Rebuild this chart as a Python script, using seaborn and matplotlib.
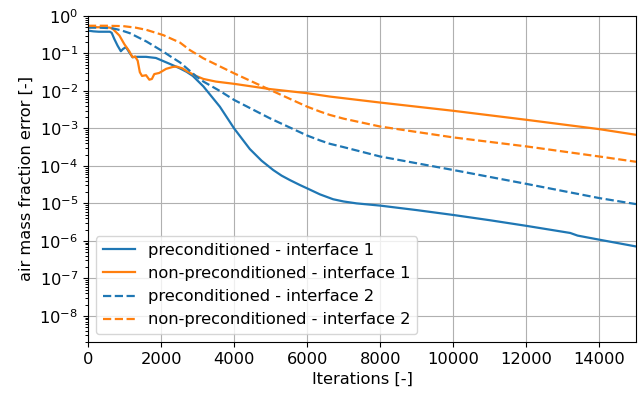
import numpy as np
import pandas as pd
import matplotlib
matplotlib.use("Agg")
import matplotlib.pyplot as plt
from matplotlib.ticker import FixedLocator, NullFormatter, LogFormatterSciNotation
import seaborn as sns

# ---- data (iterations, log10 of error) ----
pre_if1_it = [0, 150, 300, 450, 600, 650, 720, 810, 900, 960, 1040, 1130, 1220, 1310,
              1590, 1860, 2245, 2500, 2700, 2870, 3160, 3610, 4000, 4430, 4750, 5070,
              5300, 5530, 5800, 6000, 6350, 6710, 7000, 7350, 8000, 9000, 10000, 11000,
              12000, 13200, 13400, 14000, 15000]
pre_if1_log = [-0.39, -0.41, -0.42, -0.42, -0.42, -0.45, -0.61, -0.79, -0.94, -0.88,
               -0.83, -0.97, -1.10, -1.09, -1.09, -1.12, -1.28, -1.39, -1.49, -1.60,
               -1.88, -2.42, -3.00, -3.55, -3.86, -4.11, -4.26, -4.38, -4.51, -4.60,
               -4.76, -4.89, -4.95, -5.00, -5.06, -5.18, -5.31, -5.45, -5.60, -5.79,
               -5.86, -5.97, -6.15]

non_if1_it = [0, 300, 600, 675, 860, 995, 1130, 1220, 1290, 1360, 1420, 1480, 1590,
              1680, 1750, 1815, 1950, 2140, 2320, 2430, 2590, 2700, 2960, 3160, 3500,
              4000, 4980, 6000, 6620, 8000, 10000, 12000, 14000, 15000]
non_if1_log = [-0.30, -0.30, -0.31, -0.34, -0.52, -0.75, -0.94, -1.10, -1.08, -1.19,
               -1.50, -1.60, -1.58, -1.70, -1.68, -1.55, -1.52, -1.41, -1.36, -1.35,
               -1.40, -1.47, -1.60, -1.68, -1.75, -1.81, -1.95, -2.06, -2.15, -2.31,
               -2.53, -2.77, -3.02, -3.17]

pre_if2_it = [0, 300, 680, 900, 1150, 1600, 2060, 2245, 2520, 2975, 3160, 3610, 4000,
              4980, 6000, 6350, 6620, 7000, 8000, 10000, 12000, 14000, 15000]
pre_if2_log = [-0.31, -0.31, -0.33, -0.38, -0.46, -0.68, -0.95, -1.07, -1.24, -1.62,
               -1.75, -2.00, -2.24, -2.73, -3.19, -3.32, -3.41, -3.50, -3.75, -4.11,
               -4.48, -4.86, -5.02]

non_if2_it = [0, 500, 960, 1300, 1600, 2060, 2520, 2790, 3160, 4000, 4980, 6000, 6350,
              6620, 7000, 8000, 10000, 12000, 14000, 15000]
non_if2_log = [-0.26, -0.26, -0.27, -0.31, -0.37, -0.51, -0.71, -0.91, -1.13, -1.53,
               -1.97, -2.42, -2.55, -2.64, -2.74, -2.95, -3.24, -3.48, -3.75, -3.89]

labels = ["preconditioned - interface 1", "non-preconditioned - interface 1",
          "preconditioned - interface 2", "non-preconditioned - interface 2"]

series = [(pre_if1_it, pre_if1_log), (non_if1_it, non_if1_log),
          (pre_if2_it, pre_if2_log), (non_if2_it, non_if2_log)]

frames = []
for lab, (it, lg) in zip(labels, series):
    frames.append(pd.DataFrame({"Iterations": it,
                                "error": np.power(10.0, np.array(lg)),
                                "series": lab}))
df = pd.concat(frames, ignore_index=True)

palette = {labels[0]: "#1f77b4", labels[1]: "#ff7f0e",
           labels[2]: "#1f77b4", labels[3]: "#ff7f0e"}
dashes = {labels[0]: "", labels[1]: "",
          labels[2]: (3.7, 1.6), labels[3]: (3.7, 1.6)}

plt.rcParams["font.size"] = 11.7
plt.rcParams["font.family"] = ["DejaVu Sans"]

fig, ax = plt.subplots(figsize=(6.42, 3.96), dpi=100)
sns.lineplot(data=df, x="Iterations", y="error", hue="series", style="series",
             hue_order=labels, style_order=labels, palette=palette, dashes=dashes,
             estimator=None, sort=False, linewidth=1.6, ax=ax)

ax.set_yscale("log")
ax.set_xlim(0, 15000)
ax.set_ylim(2.0e-9, 1.0)
major = [10.0 ** -k for k in range(0, 9)]
minor = [m * 10.0 ** -k for k in range(1, 10) for m in range(2, 10)]
ax.yaxis.set_major_locator(FixedLocator(major))
ax.yaxis.set_major_formatter(LogFormatterSciNotation())
ax.yaxis.set_minor_locator(FixedLocator(minor))
ax.yaxis.set_minor_formatter(NullFormatter())
ax.tick_params(axis="y", which="minor", length=2.5, width=0.7, color="black", left=True)
ax.grid(True, which="major", color="#b0b0b0", linewidth=0.8)
ax.grid(False, which="minor")
ax.set_xlabel("Iterations [-]")
ax.set_ylabel("air mass fraction error [-]")
ax.legend(loc="lower left", title=None)

fig.subplots_adjust(left=0.137, right=0.9907, top=0.9596, bottom=0.1364)
fig.savefig("out.png", dpi=100)
